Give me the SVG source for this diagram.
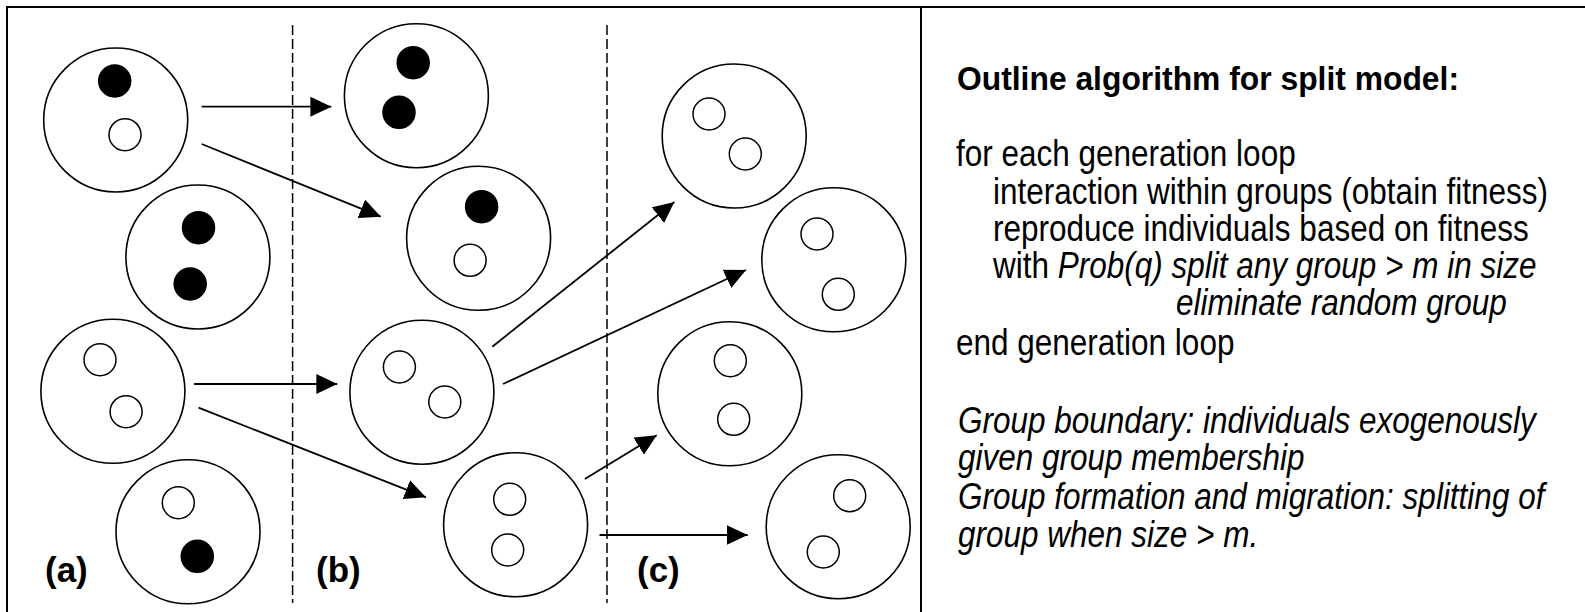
<svg xmlns="http://www.w3.org/2000/svg" width="1585" height="612" viewBox="0 0 1585 612">
<style>
.frame{stroke:#000;stroke-width:2;fill:none}
.dash{stroke:#000;stroke-width:1.5;stroke-dasharray:10 4;fill:none}
.grp{fill:#fff;stroke:#000;stroke-width:1.6}
.ind{fill:#fff;stroke:#000;stroke-width:1.5}
.ind.f{fill:#000}
.arr{stroke:#000;stroke-width:1.8;fill:none;marker-end:url(#ah)}
.lbl{font-family:"Liberation Sans",Arial,sans-serif;font-weight:bold;font-size:35px;fill:#000}
.txt{font-family:"Liberation Sans",Arial,sans-serif;font-size:31.5px;fill:#000}
.b{font-weight:bold}
.i{font-style:italic}
</style>
<defs>
<marker id="ah" markerUnits="userSpaceOnUse" markerWidth="22" markerHeight="20" refX="21" refY="10" orient="auto">
<path d="M0,0 L21,10 L0,20 Z" fill="#000"/>
</marker>
</defs>
<rect width="1585" height="612" fill="#fff"/>
<g id="frame">
<path class="frame" d="M7,612 V7 H1585"/>
<path class="frame" d="M921,7 V612"/>
<path class="dash" d="M292.6,25 V603"/>
<path class="dash" d="M607,25 V603"/>
</g>
<g id="connectors">
<line class="arr" x1="201.7" y1="106.7" x2="331.4" y2="106.7"/>
<line class="arr" x1="201.7" y1="144" x2="380.8" y2="216.7"/>
<line class="arr" x1="194.1" y1="384" x2="337.3" y2="384"/>
<line class="arr" x1="198.5" y1="407.7" x2="425.9" y2="497.3"/>
<line class="arr" x1="492.3" y1="346.7" x2="674.3" y2="202"/>
<line class="arr" x1="503" y1="384" x2="746" y2="270"/>
<line class="arr" x1="584.8" y1="479" x2="656.7" y2="435.3"/>
<line class="arr" x1="599.5" y1="535" x2="747.7" y2="535"/>
</g>
<g id="a1"><circle class="grp" cx="115.7" cy="120" r="72"/><circle class="ind f" cx="114.7" cy="81" r="16"/><circle class="ind" cx="125" cy="134.7" r="16"/></g>
<g id="a2"><circle class="grp" cx="197.9" cy="257" r="72"/><circle class="ind f" cx="198.5" cy="227.7" r="16"/><circle class="ind f" cx="190.2" cy="284" r="16"/></g>
<g id="a3"><circle class="grp" cx="112.9" cy="391.3" r="72"/><circle class="ind" cx="100" cy="359.7" r="16"/><circle class="ind" cx="126.1" cy="411.7" r="16"/></g>
<g id="a4"><circle class="grp" cx="188" cy="531.8" r="72"/><circle class="ind" cx="178.3" cy="502.7" r="16"/><circle class="ind f" cx="197.3" cy="556.3" r="16"/></g>
<g id="b1"><circle class="grp" cx="416.4" cy="95.7" r="72"/><circle class="ind f" cx="413.2" cy="62.7" r="16"/><circle class="ind f" cx="399" cy="112.3" r="16"/></g>
<g id="b2"><circle class="grp" cx="478.6" cy="238.3" r="72"/><circle class="ind f" cx="481.6" cy="206.7" r="16"/><circle class="ind" cx="470.1" cy="260.3" r="16"/></g>
<g id="b3"><circle class="grp" cx="421.9" cy="392.2" r="72"/><circle class="ind" cx="399.4" cy="367" r="16"/><circle class="ind" cx="444.8" cy="402" r="16"/></g>
<g id="b4"><circle class="grp" cx="515.6" cy="524.7" r="72"/><circle class="ind" cx="509.7" cy="499.3" r="16"/><circle class="ind" cx="507.7" cy="550" r="16"/></g>
<g id="c1"><circle class="grp" cx="734.2" cy="136" r="72"/><circle class="ind" cx="709" cy="114" r="16"/><circle class="ind" cx="745.3" cy="154" r="16"/></g>
<g id="c2"><circle class="grp" cx="833.8" cy="259.8" r="72"/><circle class="ind" cx="817" cy="234" r="16"/><circle class="ind" cx="838.3" cy="294.3" r="16"/></g>
<g id="c3"><circle class="grp" cx="729.8" cy="393.8" r="72"/><circle class="ind" cx="730.3" cy="360.7" r="16"/><circle class="ind" cx="733.7" cy="419.3" r="16"/></g>
<g id="c4"><circle class="grp" cx="838.2" cy="526.7" r="72"/><circle class="ind" cx="849.7" cy="495.7" r="16"/><circle class="ind" cx="823.3" cy="552" r="16"/></g>
<g id="labels">
<text class="lbl" x="45" y="582">(a)</text>
<text class="lbl" x="316" y="582">(b)</text>
<text class="lbl" x="637" y="582">(c)</text>
</g>
<g id="algorithm" class="txt">
<text class="b" transform="matrix(1,0,0,1.06,0,-5.4)" x="957" y="90" textLength="502" lengthAdjust="spacingAndGlyphs">Outline algorithm for split model:</text>
<text transform="matrix(1,0,0,1.15,0,-24.9)" x="956" y="166">for each generation loop</text>
<text transform="matrix(1,0,0,1.15,0,-30.6)" x="993" y="204">interaction within groups (obtain fitness)</text>
<text transform="matrix(1,0,0,1.15,0,-36.23)" x="993" y="241.5">reproduce individuals based on fitness</text>
<text transform="matrix(1,0,0,1.15,0,-41.75)" x="993" y="278.3">with <tspan class="i">Prob(q) split any group &gt; m in size</tspan></text>
<text class="i" transform="matrix(1,0,0,1.15,0,-47.25)" x="1176" y="315">eliminate random group</text>
<text transform="matrix(1,0,0,1.15,0,-53.25)" x="956" y="355">end generation loop</text>
<text class="i" transform="matrix(1,0,0,1.15,0,-64.9)" x="958" y="432.7">Group boundary: individuals exogenously</text>
<text class="i" transform="matrix(1,0,0,1.15,0,-70.58)" x="958" y="470.5">given group membership</text>
<text class="i" transform="matrix(1,0,0,1.15,0,-76.35)" x="958" y="509">Group formation and migration: splitting of</text>
<text class="i" transform="matrix(1,0,0,1.15,0,-82.05)" x="958" y="547">group when size &gt; m.</text>
</g>
</svg>
